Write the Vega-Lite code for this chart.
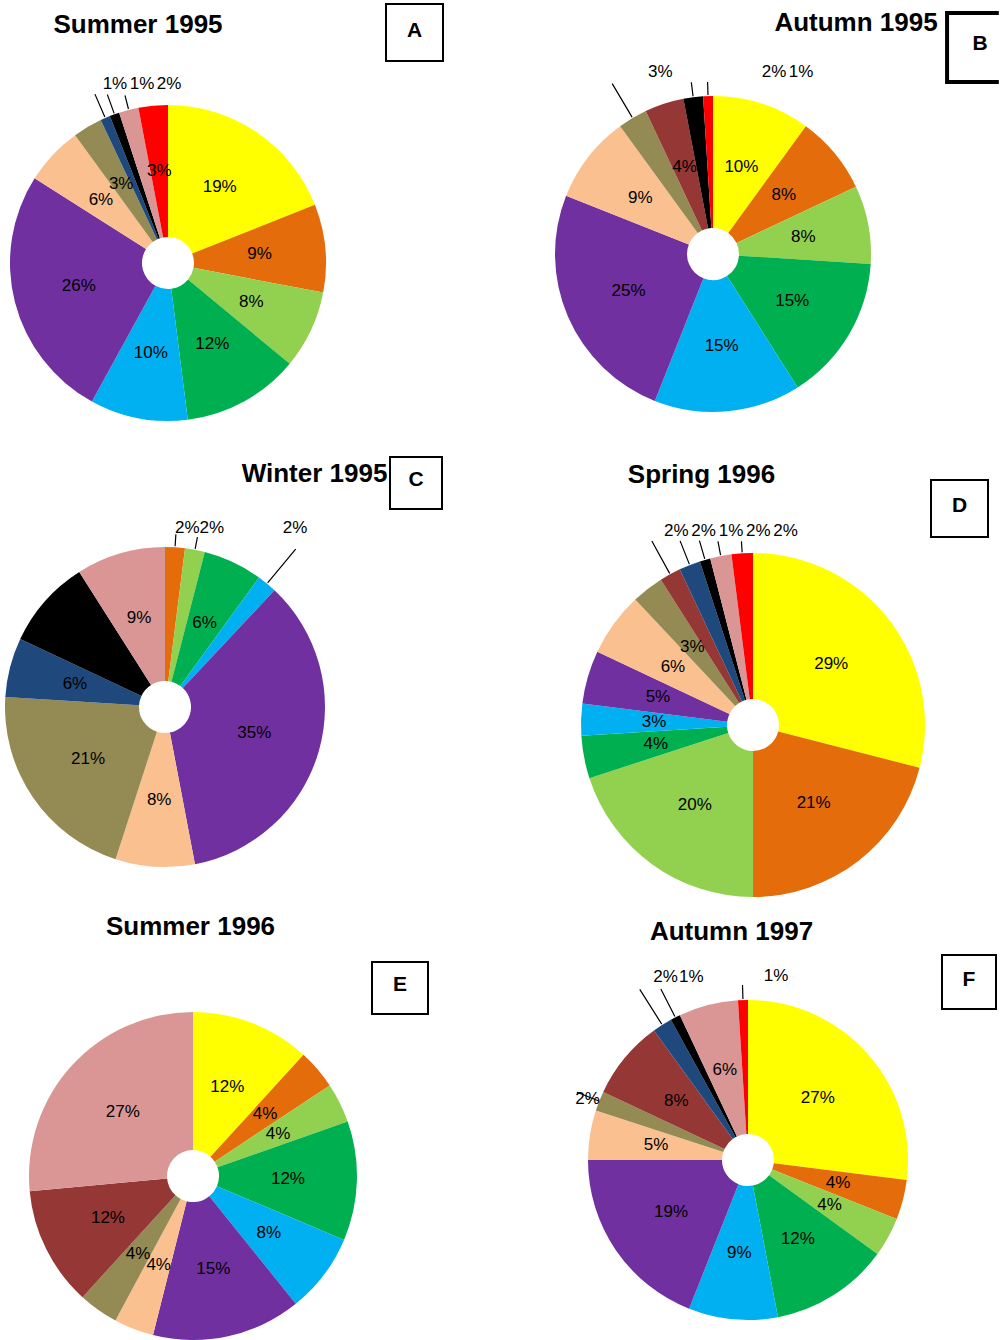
{
"$schema": "https://vega.github.io/schema/vega-lite/v6.json",
"padding": 0,
"background": "white",
"columns": 4,
"align": "each",
"bounds": "flush",
"spacing": 0,
"config": {"view": {"stroke": null}, "text": {"font": "Liberation Sans", "fontSize": 17, "fill": "#000000", "align": "center", "baseline": "middle"}},
"datasets": {"slices": [
{"panel":"A","group":"c01","share":0.19},{"panel":"A","group":"c02","share":0.09},{"panel":"A","group":"c03","share":0.08},{"panel":"A","group":"c04","share":0.12},{"panel":"A","group":"c05","share":0.10},{"panel":"A","group":"c06","share":0.26},{"panel":"A","group":"c07","share":0.06},{"panel":"A","group":"c08","share":0.03},{"panel":"A","group":"c10","share":0.01},{"panel":"A","group":"c11","share":0.01},{"panel":"A","group":"c12","share":0.02},{"panel":"A","group":"c13","share":0.03},
{"panel":"B","group":"c01","share":0.10},{"panel":"B","group":"c02","share":0.08},{"panel":"B","group":"c03","share":0.08},{"panel":"B","group":"c04","share":0.15},{"panel":"B","group":"c05","share":0.15},{"panel":"B","group":"c06","share":0.25},{"panel":"B","group":"c07","share":0.09},{"panel":"B","group":"c08","share":0.03},{"panel":"B","group":"c09","share":0.04},{"panel":"B","group":"c11","share":0.02},{"panel":"B","group":"c13","share":0.01},
{"panel":"C","group":"c02","share":0.02},{"panel":"C","group":"c03","share":0.02},{"panel":"C","group":"c04","share":0.06},{"panel":"C","group":"c05","share":0.02},{"panel":"C","group":"c06","share":0.35},{"panel":"C","group":"c07","share":0.08},{"panel":"C","group":"c08","share":0.21},{"panel":"C","group":"c10","share":0.06},{"panel":"C","group":"c11","share":0.09},{"panel":"C","group":"c12","share":0.09},
{"panel":"D","group":"c01","share":0.29},{"panel":"D","group":"c02","share":0.21},{"panel":"D","group":"c03","share":0.20},{"panel":"D","group":"c04","share":0.04},{"panel":"D","group":"c05","share":0.03},{"panel":"D","group":"c06","share":0.05},{"panel":"D","group":"c07","share":0.06},{"panel":"D","group":"c08","share":0.03},{"panel":"D","group":"c09","share":0.02},{"panel":"D","group":"c10","share":0.02},{"panel":"D","group":"c11","share":0.01},{"panel":"D","group":"c12","share":0.02},{"panel":"D","group":"c13","share":0.02},
{"panel":"E","group":"c01","share":0.12},{"panel":"E","group":"c02","share":0.04},{"panel":"E","group":"c03","share":0.04},{"panel":"E","group":"c04","share":0.12},{"panel":"E","group":"c05","share":0.08},{"panel":"E","group":"c06","share":0.15},{"panel":"E","group":"c07","share":0.04},{"panel":"E","group":"c08","share":0.04},{"panel":"E","group":"c09","share":0.12},{"panel":"E","group":"c12","share":0.27},
{"panel":"F","group":"c01","share":0.27},{"panel":"F","group":"c02","share":0.04},{"panel":"F","group":"c03","share":0.04},{"panel":"F","group":"c04","share":0.12},{"panel":"F","group":"c05","share":0.09},{"panel":"F","group":"c06","share":0.19},{"panel":"F","group":"c07","share":0.05},{"panel":"F","group":"c08","share":0.02},{"panel":"F","group":"c09","share":0.08},{"panel":"F","group":"c10","share":0.02},{"panel":"F","group":"c11","share":0.01},{"panel":"F","group":"c12","share":0.06},{"panel":"F","group":"c13","share":0.01}
]},
"concat": [
{"width": 1, "height": 20, "data": {"values": [{}]}, "mark": {"type": "text", "text": ""}},
{"width": 57, "height": 65, "data": {"values": [{"letter": "A"}]}, "layer": [
  {"mark": {"type": "point", "shape": "square", "size": 3249, "filled": false, "stroke": "#000000", "strokeWidth": 2, "opacity": 1}, "encoding": {}},
  {"mark": {"type": "text", "fontSize": 21, "fontWeight": "bold", "fill": "#000000", "dy": -1.5}, "encoding": {"text": {"field": "letter"}}}]},
{"width": 1, "height": 20, "data": {"values": [{}]}, "mark": {"type": "text", "text": ""}},
{"width": 30, "height": 95, "data": {"values": [{"letter": "B"}]}, "layer": [
  {"mark": {"type": "point", "shape": "M 0.98 -1 H -0.52 V 1 H 0.98", "size": 4761, "filled": false, "stroke": "#000000", "strokeWidth": 4, "opacity": 1}, "encoding": {}},
  {"mark": {"type": "text", "fontSize": 21, "fontWeight": "bold", "fill": "#000000", "dx": 15, "dy": -3.5}, "encoding": {"text": {"field": "letter"}}}]},

{"width": 336, "height": 336, "data": {"name": "slices"},
 "transform": [{"filter": "datum.panel === 'A'"}, {"stack": "share", "groupby": [], "sort": [{"field": "group", "order": "ascending"}], "offset": "normalize", "as": ["s0", "s1"]}, {"calculate": "(datum.s0 + datum.s1) / 2", "as": "mid"}],
 "layer": [
  {"mark": {"type": "arc", "innerRadius": 26, "outerRadius": 158}, "encoding": {"theta": {"field": "s0", "type": "quantitative", "scale": {"domain": [0, 1]}, "stack": null}, "theta2": {"field": "s1"}, "color": {"field": "group", "type": "nominal", "legend": null, "scale": {"domain": ["c01","c02","c03","c04","c05","c06","c07","c08","c09","c10","c11","c12","c13"], "range": ["#FFFF00","#E46C0A","#92D050","#00B050","#00B0F0","#7030A0","#FAC090","#948A54","#953735","#1F497D","#000000","#D99694","#FF0000"]}}}},
  {"transform": [{"filter": "indexof(['c10','c11','c12'], datum.group) < 0"}], "mark": {"type": "text", "radius": 92}, "encoding": {"theta": {"field": "mid", "type": "quantitative", "scale": {"domain": [0, 1]}, "stack": null}, "text": {"field": "share", "type": "quantitative", "format": ".0%"}}},
  {"transform": [{"filter": "datum.group === 'c10'"}], "encoding": {"theta": {"field": "mid", "type": "quantitative", "scale": {"domain": [0, 1]}, "stack": null}}, "layer": [
    {"mark": {"type": "arc", "innerRadius": 159, "outerRadius": 184, "filled": false, "stroke": "#000000", "strokeWidth": 1.2}, "encoding": {"theta2": {"field": "mid"}}},
    {"mark": {"type": "text", "radius": 158, "dx": 9.7, "dy": -34}, "encoding": {"text": {"field": "share", "type": "quantitative", "format": ".0%"}}}]},
  {"transform": [{"filter": "datum.group === 'c11'"}], "encoding": {"theta": {"field": "mid", "type": "quantitative", "scale": {"domain": [0, 1]}, "stack": null}}, "layer": [
    {"mark": {"type": "arc", "innerRadius": 159, "outerRadius": 179, "filled": false, "stroke": "#000000", "strokeWidth": 1.2}, "encoding": {"theta2": {"field": "mid"}}},
    {"mark": {"type": "text", "radius": 158, "dx": 27.5, "dy": -30.3}, "encoding": {"text": {"field": "share", "type": "quantitative", "format": ".0%"}}}]},
  {"transform": [{"filter": "datum.group === 'c12'"}], "encoding": {"theta": {"field": "mid", "type": "quantitative", "scale": {"domain": [0, 1]}, "stack": null}}, "layer": [
    {"mark": {"type": "arc", "innerRadius": 159, "outerRadius": 173, "filled": false, "stroke": "#000000", "strokeWidth": 1.2}, "encoding": {"theta2": {"field": "mid"}}},
    {"mark": {"type": "text", "radius": 158, "dx": 40.3, "dy": -26}, "encoding": {"text": {"field": "share", "type": "quantitative", "format": ".0%"}}}]},
  {"data": {"values": [{"t": "Summer 1995"}]}, "mark": {"type": "text", "fontSize": 26, "fontWeight": "bold", "fill": "#000000", "baseline": "alphabetic", "dx": -30, "dy": -229.7}, "encoding": {"text": {"field": "t"}}}
 ]},
{"width": 170, "height": 20, "data": {"values": [{}]}, "mark": {"type": "text", "text": ""}},
{"width": 314, "height": 318, "data": {"name": "slices"},
 "transform": [{"filter": "datum.panel === 'B'"}, {"stack": "share", "groupby": [], "sort": [{"field": "group", "order": "ascending"}], "offset": "normalize", "as": ["s0", "s1"]}, {"calculate": "(datum.s0 + datum.s1) / 2", "as": "mid"}],
 "layer": [
  {"mark": {"type": "arc", "innerRadius": 26, "outerRadius": 158}, "encoding": {"theta": {"field": "s0", "type": "quantitative", "scale": {"domain": [0, 1]}, "stack": null}, "theta2": {"field": "s1"}, "color": {"field": "group", "type": "nominal", "legend": null, "scale": {"domain": ["c01","c02","c03","c04","c05","c06","c07","c08","c09","c10","c11","c12","c13"], "range": ["#FFFF00","#E46C0A","#92D050","#00B050","#00B0F0","#7030A0","#FAC090","#948A54","#953735","#1F497D","#000000","#D99694","#FF0000"]}}}},
  {"transform": [{"filter": "indexof(['c08','c11','c13'], datum.group) < 0"}], "mark": {"type": "text", "radius": 92}, "encoding": {"theta": {"field": "mid", "type": "quantitative", "scale": {"domain": [0, 1]}, "stack": null}, "text": {"field": "share", "type": "quantitative", "format": ".0%"}}},
  {"transform": [{"filter": "datum.group === 'c08'"}], "encoding": {"theta": {"field": "mid", "type": "quantitative", "scale": {"domain": [0, 1]}, "stack": null}}, "layer": [
    {"mark": {"type": "arc", "innerRadius": 159, "outerRadius": 198, "filled": false, "stroke": "#000000", "strokeWidth": 1.2}, "encoding": {"theta2": {"field": "mid"}}},
    {"mark": {"type": "text", "radius": 158, "dx": 27.7, "dy": -46.3}, "encoding": {"text": {"field": "share", "type": "quantitative", "format": ".0%"}}}]},
  {"transform": [{"filter": "datum.group === 'c11'"}], "encoding": {"theta": {"field": "mid", "type": "quantitative", "scale": {"domain": [0, 1]}, "stack": null}}, "layer": [
    {"mark": {"type": "arc", "innerRadius": 159, "outerRadius": 173, "filled": false, "stroke": "#000000", "strokeWidth": 1.2}, "encoding": {"theta2": {"field": "mid"}}},
    {"mark": {"type": "text", "radius": 158, "dx": 80.8, "dy": -25.5}, "encoding": {"text": {"field": "share", "type": "quantitative", "format": ".0%"}}}]},
  {"transform": [{"filter": "datum.group === 'c13'"}], "encoding": {"theta": {"field": "mid", "type": "quantitative", "scale": {"domain": [0, 1]}, "stack": null}}, "layer": [
    {"mark": {"type": "arc", "innerRadius": 159, "outerRadius": 172, "filled": false, "stroke": "#000000", "strokeWidth": 1.2}, "encoding": {"theta2": {"field": "mid"}}},
    {"mark": {"type": "text", "radius": 158, "dx": 93, "dy": -24.4}, "encoding": {"text": {"field": "share", "type": "quantitative", "format": ".0%"}}}]},
  {"data": {"values": [{"t": "Autumn 1995"}]}, "mark": {"type": "text", "fontSize": 26, "fontWeight": "bold", "fill": "#000000", "baseline": "alphabetic", "dx": 143, "dy": -223.3}, "encoding": {"text": {"field": "t"}}}
 ]},
{"width": 1, "height": 20, "data": {"values": [{}]}, "mark": {"type": "text", "text": ""}},

{"width": 1, "height": 20, "data": {"values": [{}]}, "mark": {"type": "text", "text": ""}},
{"width": 60, "height": 104, "data": {"values": [{"letter": "C"}]}, "layer": [
  {"mark": {"type": "point", "shape": "square", "size": 2704, "filled": false, "stroke": "#000000", "strokeWidth": 2, "opacity": 1}, "encoding": {}},
  {"mark": {"type": "text", "fontSize": 21, "fontWeight": "bold", "fill": "#000000", "dy": -3}, "encoding": {"text": {"field": "letter"}}}]},
{"width": 1, "height": 20, "data": {"values": [{}]}, "mark": {"type": "text", "text": ""}},
{"width": 19, "height": 155, "data": {"values": [{"letter": "D"}]}, "layer": [
  {"mark": {"type": "point", "shape": "square", "size": 3249, "filled": false, "stroke": "#000000", "strokeWidth": 2, "opacity": 1}, "encoding": {}},
  {"mark": {"type": "text", "fontSize": 21, "fontWeight": "bold", "fill": "#000000", "dy": -2.5}, "encoding": {"text": {"field": "letter"}}}]},

{"width": 330, "height": 242, "data": {"name": "slices"},
 "transform": [{"filter": "datum.panel === 'C'"}, {"stack": "share", "groupby": [], "sort": [{"field": "group", "order": "ascending"}], "offset": "normalize", "as": ["s0", "s1"]}, {"calculate": "(datum.s0 + datum.s1) / 2", "as": "mid"}],
 "layer": [
  {"mark": {"type": "arc", "innerRadius": 26, "outerRadius": 160}, "encoding": {"theta": {"field": "s0", "type": "quantitative", "scale": {"domain": [0, 1]}, "stack": null}, "theta2": {"field": "s1"}, "color": {"field": "group", "type": "nominal", "legend": null, "scale": {"domain": ["c01","c02","c03","c04","c05","c06","c07","c08","c09","c10","c11","c12","c13"], "range": ["#FFFF00","#E46C0A","#92D050","#00B050","#00B0F0","#7030A0","#FAC090","#948A54","#953735","#1F497D","#000000","#D99694","#FF0000"]}}}},
  {"transform": [{"filter": "indexof(['c02','c03','c05'], datum.group) < 0"}], "mark": {"type": "text", "radius": 93}, "encoding": {"theta": {"field": "mid", "type": "quantitative", "scale": {"domain": [0, 1]}, "stack": null}, "text": {"field": "share", "type": "quantitative", "format": ".0%"}}},
  {"transform": [{"filter": "datum.group === 'c02'"}], "encoding": {"theta": {"field": "mid", "type": "quantitative", "scale": {"domain": [0, 1]}, "stack": null}}, "layer": [
    {"mark": {"type": "arc", "innerRadius": 161, "outerRadius": 173, "filled": false, "stroke": "#000000", "strokeWidth": 1.2}, "encoding": {"theta2": {"field": "mid"}}},
    {"mark": {"type": "text", "radius": 160, "dx": 12.3, "dy": -19.8}, "encoding": {"text": {"field": "share", "type": "quantitative", "format": ".0%"}}}]},
  {"transform": [{"filter": "datum.group === 'c03'"}], "encoding": {"theta": {"field": "mid", "type": "quantitative", "scale": {"domain": [0, 1]}, "stack": null}}, "layer": [
    {"mark": {"type": "arc", "innerRadius": 161, "outerRadius": 173, "filled": false, "stroke": "#000000", "strokeWidth": 1.2}, "encoding": {"theta2": {"field": "mid"}}},
    {"mark": {"type": "text", "radius": 160, "dx": 16.8, "dy": -22.3}, "encoding": {"text": {"field": "share", "type": "quantitative", "format": ".0%"}}}]},
  {"transform": [{"filter": "datum.group === 'c05'"}], "encoding": {"theta": {"field": "mid", "type": "quantitative", "scale": {"domain": [0, 1]}, "stack": null}}, "layer": [
    {"mark": {"type": "arc", "innerRadius": 161, "outerRadius": 205, "filled": false, "stroke": "#000000", "strokeWidth": 1.2}, "encoding": {"theta2": {"field": "mid"}}},
    {"mark": {"type": "text", "radius": 160, "dx": 28, "dy": -56.2}, "encoding": {"text": {"field": "share", "type": "quantitative", "format": ".0%"}}}]},
  {"data": {"values": [{"t": "Winter 1995"}]}, "mark": {"type": "text", "fontSize": 26, "fontWeight": "bold", "fill": "#000000", "baseline": "alphabetic", "dx": 149.5, "dy": -225}, "encoding": {"text": {"field": "t"}}}
 ]},
{"width": 1, "height": 20, "data": {"values": [{}]}, "mark": {"type": "text", "text": ""}},
{"width": 394, "height": 278, "data": {"name": "slices"},
 "transform": [{"filter": "datum.panel === 'D'"}, {"stack": "share", "groupby": [], "sort": [{"field": "group", "order": "ascending"}], "offset": "normalize", "as": ["s0", "s1"]}, {"calculate": "(datum.s0 + datum.s1) / 2", "as": "mid"}],
 "layer": [
  {"mark": {"type": "arc", "innerRadius": 26, "outerRadius": 172}, "encoding": {"theta": {"field": "s0", "type": "quantitative", "scale": {"domain": [0, 1]}, "stack": null}, "theta2": {"field": "s1"}, "color": {"field": "group", "type": "nominal", "legend": null, "scale": {"domain": ["c01","c02","c03","c04","c05","c06","c07","c08","c09","c10","c11","c12","c13"], "range": ["#FFFF00","#E46C0A","#92D050","#00B050","#00B0F0","#7030A0","#FAC090","#948A54","#953735","#1F497D","#000000","#D99694","#FF0000"]}}}},
  {"transform": [{"filter": "indexof(['c09','c10','c11','c12','c13'], datum.group) < 0"}], "mark": {"type": "text", "radius": 99}, "encoding": {"theta": {"field": "mid", "type": "quantitative", "scale": {"domain": [0, 1]}, "stack": null}, "text": {"field": "share", "type": "quantitative", "format": ".0%"}}},
  {"transform": [{"filter": "datum.group === 'c09'"}], "encoding": {"theta": {"field": "mid", "type": "quantitative", "scale": {"domain": [0, 1]}, "stack": null}}, "layer": [
    {"mark": {"type": "arc", "innerRadius": 173, "outerRadius": 210, "filled": false, "stroke": "#000000", "strokeWidth": 1.2}, "encoding": {"theta2": {"field": "mid"}}},
    {"mark": {"type": "text", "radius": 172, "dx": 6.2, "dy": -43.3}, "encoding": {"text": {"field": "share", "type": "quantitative", "format": ".0%"}}}]},
  {"transform": [{"filter": "datum.group === 'c10'"}], "encoding": {"theta": {"field": "mid", "type": "quantitative", "scale": {"domain": [0, 1]}, "stack": null}}, "layer": [
    {"mark": {"type": "arc", "innerRadius": 173, "outerRadius": 198, "filled": false, "stroke": "#000000", "strokeWidth": 1.2}, "encoding": {"theta2": {"field": "mid"}}},
    {"mark": {"type": "text", "radius": 172, "dx": 13.9, "dy": -34.1}, "encoding": {"text": {"field": "share", "type": "quantitative", "format": ".0%"}}}]},
  {"transform": [{"filter": "datum.group === 'c11'"}], "encoding": {"theta": {"field": "mid", "type": "quantitative", "scale": {"domain": [0, 1]}, "stack": null}}, "layer": [
    {"mark": {"type": "arc", "innerRadius": 173, "outerRadius": 192, "filled": false, "stroke": "#000000", "strokeWidth": 1.2}, "encoding": {"theta2": {"field": "mid"}}},
    {"mark": {"type": "text", "radius": 172, "dx": 26, "dy": -28.8}, "encoding": {"text": {"field": "share", "type": "quantitative", "format": ".0%"}}}]},
  {"transform": [{"filter": "datum.group === 'c12'"}], "encoding": {"theta": {"field": "mid", "type": "quantitative", "scale": {"domain": [0, 1]}, "stack": null}}, "layer": [
    {"mark": {"type": "arc", "innerRadius": 173, "outerRadius": 187, "filled": false, "stroke": "#000000", "strokeWidth": 1.2}, "encoding": {"theta2": {"field": "mid"}}},
    {"mark": {"type": "text", "radius": 172, "dx": 37.5, "dy": -25}, "encoding": {"text": {"field": "share", "type": "quantitative", "format": ".0%"}}}]},
  {"transform": [{"filter": "datum.group === 'c13'"}], "encoding": {"theta": {"field": "mid", "type": "quantitative", "scale": {"domain": [0, 1]}, "stack": null}}, "layer": [
    {"mark": {"type": "arc", "innerRadius": 173, "outerRadius": 184, "filled": false, "stroke": "#000000", "strokeWidth": 1.2}, "encoding": {"theta2": {"field": "mid"}}},
    {"mark": {"type": "text", "radius": 172, "dx": 43.4, "dy": -22.3}, "encoding": {"text": {"field": "share", "type": "quantitative", "format": ".0%"}}}]},
  {"data": {"values": [{"t": "Spring 1996"}]}, "mark": {"type": "text", "fontSize": 26, "fontWeight": "bold", "fill": "#000000", "baseline": "alphabetic", "dx": -51.5, "dy": -242}, "encoding": {"text": {"field": "t"}}}
 ]},
{"width": 1, "height": 20, "data": {"values": [{}]}, "mark": {"type": "text", "text": ""}},

{"width": 1, "height": 20, "data": {"values": [{}]}, "mark": {"type": "text", "text": ""}},
{"width": 28, "height": 248, "data": {"values": [{"letter": "E"}]}, "layer": [
  {"mark": {"type": "point", "shape": "M -1 -0.929 H 1 V 0.929 H -1 Z", "size": 3136, "filled": false, "stroke": "#000000", "strokeWidth": 2, "opacity": 1}, "encoding": {}},
  {"mark": {"type": "text", "fontSize": 21, "fontWeight": "bold", "fill": "#000000", "dy": -3}, "encoding": {"text": {"field": "letter"}}}]},
{"width": 1, "height": 20, "data": {"values": [{}]}, "mark": {"type": "text", "text": ""}},
{"width": 38, "height": 236, "data": {"values": [{"letter": "F"}]}, "layer": [
  {"mark": {"type": "point", "shape": "square", "size": 2916, "filled": false, "stroke": "#000000", "strokeWidth": 2, "opacity": 1}, "encoding": {}},
  {"mark": {"type": "text", "fontSize": 21, "fontWeight": "bold", "fill": "#000000", "dy": -2}, "encoding": {"text": {"field": "letter"}}}]},

{"width": 386, "height": 128, "data": {"name": "slices"},
 "transform": [{"filter": "datum.panel === 'E'"}, {"stack": "share", "groupby": [], "sort": [{"field": "group", "order": "ascending"}], "offset": "normalize", "as": ["s0", "s1"]}, {"calculate": "(datum.s0 + datum.s1) / 2", "as": "mid"}],
 "layer": [
  {"mark": {"type": "arc", "innerRadius": 26, "outerRadius": 164}, "encoding": {"theta": {"field": "s0", "type": "quantitative", "scale": {"domain": [0, 1]}, "stack": null}, "theta2": {"field": "s1"}, "color": {"field": "group", "type": "nominal", "legend": null, "scale": {"domain": ["c01","c02","c03","c04","c05","c06","c07","c08","c09","c10","c11","c12","c13"], "range": ["#FFFF00","#E46C0A","#92D050","#00B050","#00B0F0","#7030A0","#FAC090","#948A54","#953735","#1F497D","#000000","#D99694","#FF0000"]}}}},
  {"mark": {"type": "text", "radius": 95}, "encoding": {"theta": {"field": "mid", "type": "quantitative", "scale": {"domain": [0, 1]}, "stack": null}, "text": {"field": "share", "type": "quantitative", "format": ".0%"}}},
  {"data": {"values": [{"t": "Summer 1996"}]}, "mark": {"type": "text", "fontSize": 26, "fontWeight": "bold", "fill": "#000000", "baseline": "alphabetic", "dx": -2.5, "dy": -241}, "encoding": {"text": {"field": "t"}}}
 ]},
{"width": 1, "height": 20, "data": {"values": [{}]}, "mark": {"type": "text", "text": ""}},
{"width": 384, "height": 96, "data": {"name": "slices"},
 "transform": [{"filter": "datum.panel === 'F'"}, {"stack": "share", "groupby": [], "sort": [{"field": "group", "order": "ascending"}], "offset": "normalize", "as": ["s0", "s1"]}, {"calculate": "(datum.s0 + datum.s1) / 2", "as": "mid"}],
 "layer": [
  {"mark": {"type": "arc", "innerRadius": 26, "outerRadius": 160}, "encoding": {"theta": {"field": "s0", "type": "quantitative", "scale": {"domain": [0, 1]}, "stack": null}, "theta2": {"field": "s1"}, "color": {"field": "group", "type": "nominal", "legend": null, "scale": {"domain": ["c01","c02","c03","c04","c05","c06","c07","c08","c09","c10","c11","c12","c13"], "range": ["#FFFF00","#E46C0A","#92D050","#00B050","#00B0F0","#7030A0","#FAC090","#948A54","#953735","#1F497D","#000000","#D99694","#FF0000"]}}}},
  {"transform": [{"filter": "indexof(['c08','c10','c11','c13'], datum.group) < 0"}], "mark": {"type": "text", "radius": 93}, "encoding": {"theta": {"field": "mid", "type": "quantitative", "scale": {"domain": [0, 1]}, "stack": null}, "text": {"field": "share", "type": "quantitative", "format": ".0%"}}},
  {"transform": [{"filter": "datum.group === 'c08'"}], "encoding": {"theta": {"field": "mid", "type": "quantitative", "scale": {"domain": [0, 1]}, "stack": null}}, "layer": [
    {"mark": {"type": "arc", "innerRadius": 161, "outerRadius": 184, "filled": false, "stroke": "#000000", "strokeWidth": 1.2}, "encoding": {"theta2": {"field": "mid"}}},
    {"mark": {"type": "text", "radius": 160, "dx": -11.7, "dy": -2.1}, "encoding": {"text": {"field": "share", "type": "quantitative", "format": ".0%"}}}]},
  {"transform": [{"filter": "datum.group === 'c10'"}], "encoding": {"theta": {"field": "mid", "type": "quantitative", "scale": {"domain": [0, 1]}, "stack": null}}, "layer": [
    {"mark": {"type": "arc", "innerRadius": 161, "outerRadius": 202, "filled": false, "stroke": "#000000", "strokeWidth": 1.2}, "encoding": {"theta2": {"field": "mid"}}},
    {"mark": {"type": "text", "radius": 160, "dx": 3.3, "dy": -48.4}, "encoding": {"text": {"field": "share", "type": "quantitative", "format": ".0%"}}}]},
  {"transform": [{"filter": "datum.group === 'c11'"}], "encoding": {"theta": {"field": "mid", "type": "quantitative", "scale": {"domain": [0, 1]}, "stack": null}}, "layer": [
    {"mark": {"type": "arc", "innerRadius": 161, "outerRadius": 192, "filled": false, "stroke": "#000000", "strokeWidth": 1.2}, "encoding": {"theta2": {"field": "mid"}}},
    {"mark": {"type": "text", "radius": 160, "dx": 16, "dy": -40.9}, "encoding": {"text": {"field": "share", "type": "quantitative", "format": ".0%"}}}]},
  {"transform": [{"filter": "datum.group === 'c13'"}], "encoding": {"theta": {"field": "mid", "type": "quantitative", "scale": {"domain": [0, 1]}, "stack": null}}, "layer": [
    {"mark": {"type": "arc", "innerRadius": 161, "outerRadius": 175, "filled": false, "stroke": "#000000", "strokeWidth": 1.2}, "encoding": {"theta2": {"field": "mid"}}},
    {"mark": {"type": "text", "radius": 160, "dx": 33, "dy": -23.6}, "encoding": {"text": {"field": "share", "type": "quantitative", "format": ".0%"}}}]},
  {"data": {"values": [{"t": "Autumn 1997"}]}, "mark": {"type": "text", "fontSize": 26, "fontWeight": "bold", "fill": "#000000", "baseline": "alphabetic", "dx": -16.5, "dy": -220}, "encoding": {"text": {"field": "t"}}}
 ]},
{"width": 1, "height": 20, "data": {"values": [{}]}, "mark": {"type": "text", "text": ""}}
]
}
